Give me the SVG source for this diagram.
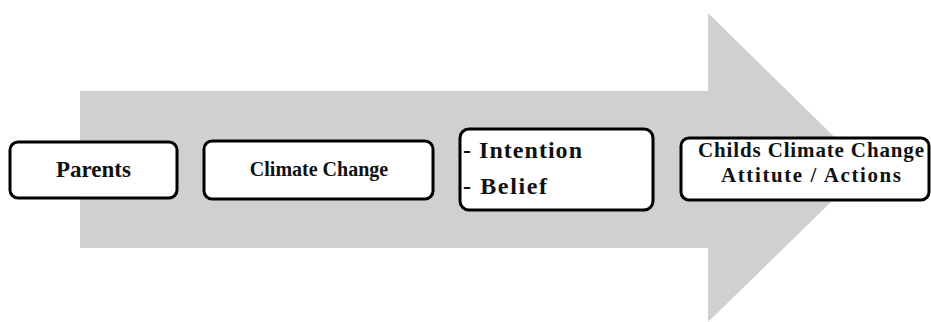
<svg xmlns="http://www.w3.org/2000/svg" width="931" height="322" viewBox="0 0 931 322">
<style>
.box{fill:#fff;stroke:#000;stroke-width:3}
.t{font-family:"Liberation Serif","DejaVu Serif",serif;font-weight:bold;fill:#111}
</style>
<rect width="931" height="322" fill="#fff"/>
<g id="arrow">
<polygon points="80,91 708,91 708,13 866,168 708,322 708,248 80,248" fill="#d0d0d0"/>
</g>
<g id="connectors"></g>
<g id="parents">
<rect class="box" x="10" y="142" width="167" height="56" rx="8"/>
<text class="t" x="93.5" y="177" font-size="23" text-anchor="middle">Parents</text>
</g>
<g id="climate">
<rect class="box" x="204" y="141" width="229" height="58" rx="8"/>
<text class="t" x="319" y="176" font-size="20" text-anchor="middle">Climate Change</text>
</g>
<g id="intention">
<rect class="box" x="460" y="129" width="193" height="81" rx="9"/>
<text class="t" x="463" y="158" font-size="24" textLength="119" lengthAdjust="spacing">- Intention</text>
<text class="t" x="463" y="194" font-size="24" textLength="84" lengthAdjust="spacing">- Belief</text>
</g>
<g id="childs">
<rect class="box" x="681" y="138" width="248" height="62" rx="8"/>
<text class="t" x="811" y="157" font-size="21" text-anchor="middle" textLength="226" lengthAdjust="spacing">Childs Climate Change</text>
<text class="t" x="811" y="182" font-size="21" text-anchor="middle" textLength="180" lengthAdjust="spacing">Attitute / Actions</text>
</g>
</svg>
